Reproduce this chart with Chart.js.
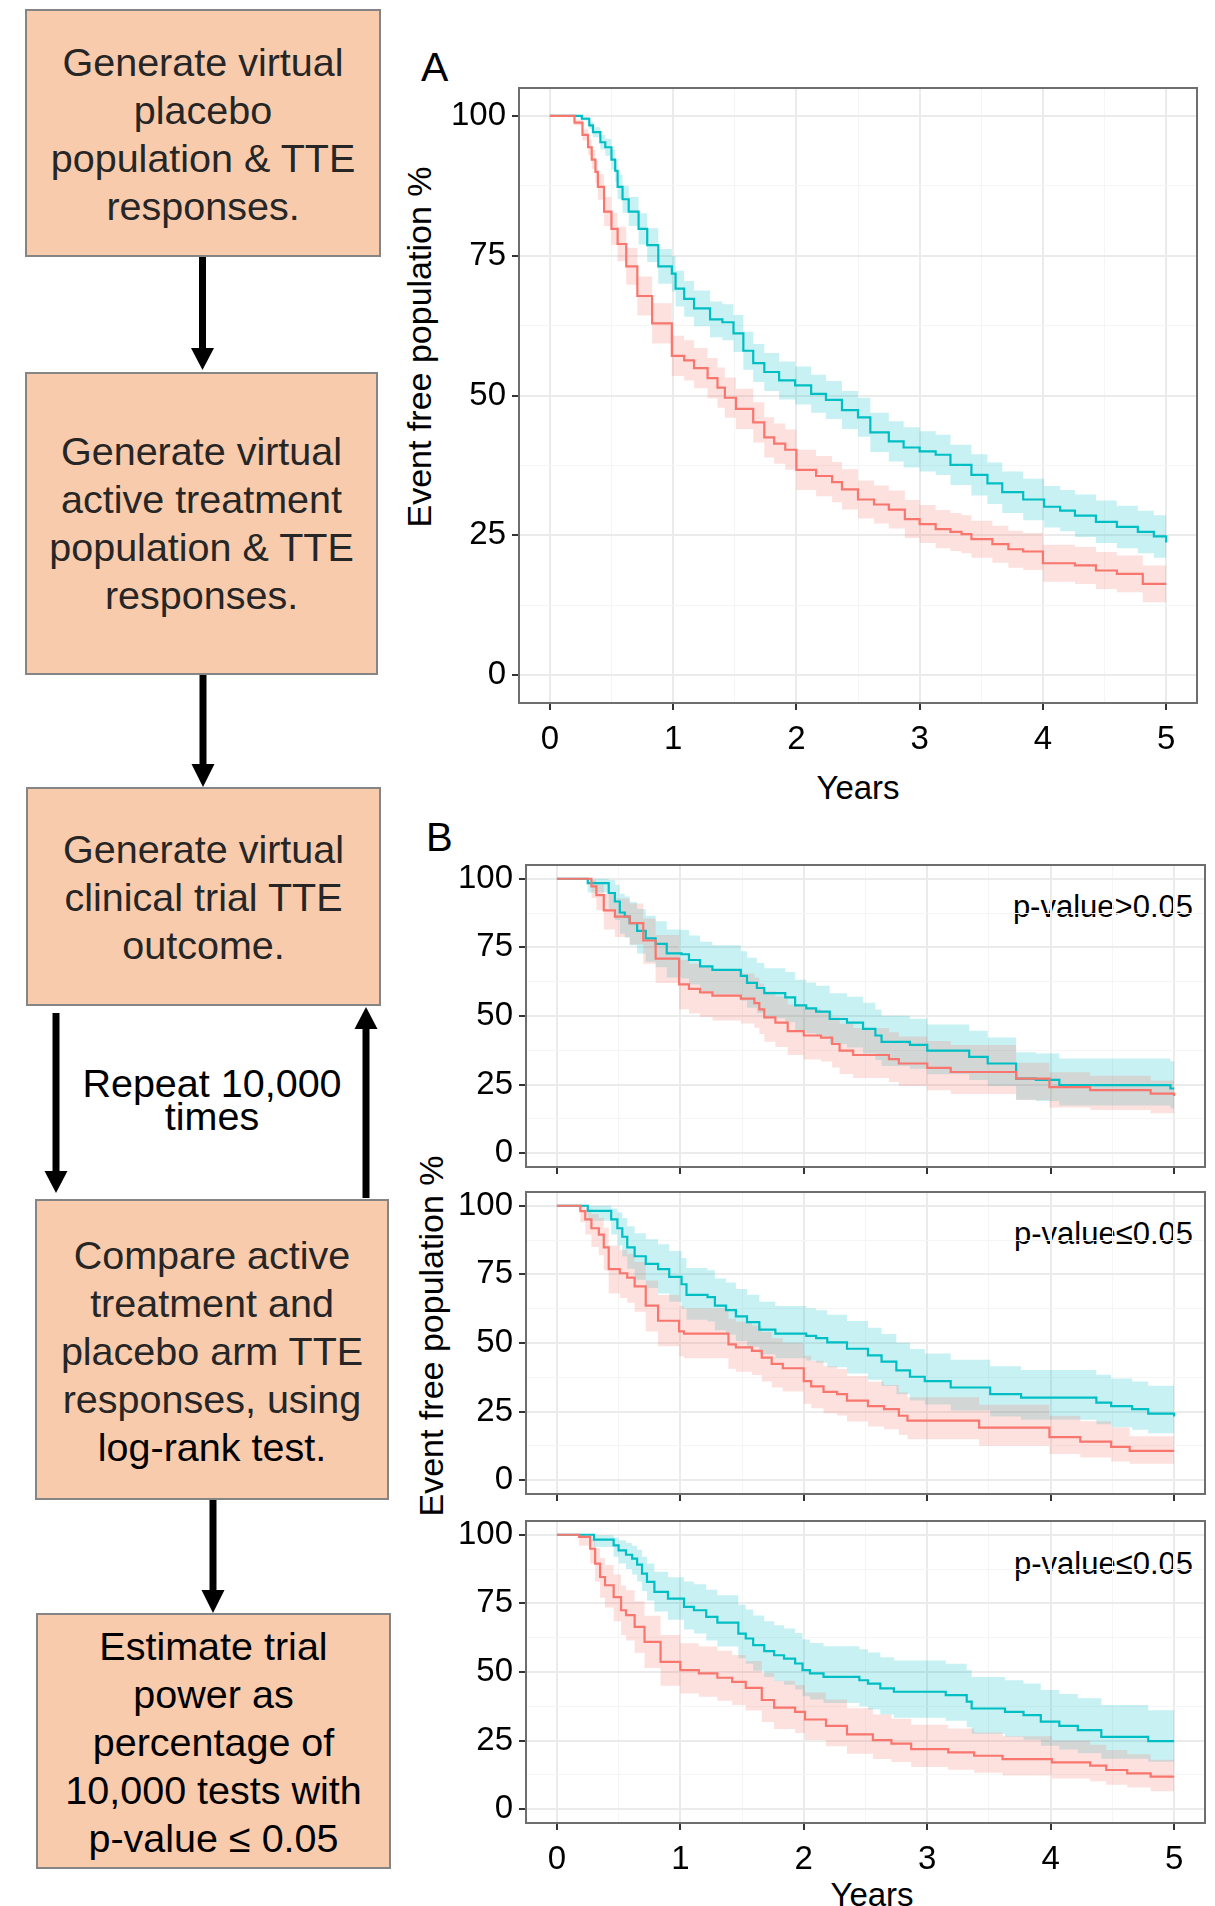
<!DOCTYPE html>
<html>
<head>
<meta charset="utf-8">
<script src="https://cdn.jsdelivr.net/npm/chart.js@4.4.1/dist/chart.umd.min.js"></script>
<style>
  html,body{margin:0;padding:0;background:#fff;}
  #root{position:relative;width:1215px;height:1906px;overflow:hidden;font-family:'Liberation Sans',Arial,Helvetica,sans-serif;}
  .box{position:absolute;box-sizing:border-box;background:#F8CBAD;border:2px solid #858585;}
  .btxt{position:absolute;text-align:center;font-size:39.5px;line-height:48px;color:#262626;white-space:nowrap;}
  .lbl{position:absolute;white-space:nowrap;color:#000;}
  .rot{position:absolute;white-space:nowrap;color:#000;font-size:34px;line-height:34px;transform:translate(-50%,-50%) rotate(-90deg);}
  canvas{position:absolute;}
</style>
</head>
<body>
<div id="root">
  <!-- flowchart -->
  <div class="box" style="left:25px;top:9px;width:356px;height:248px;"></div>
  <div class="btxt" style="left:25px;top:38.3px;width:356px;">Generate virtual<br>placebo<br>population &amp; TTE<br>responses.</div>

  <div class="box" style="left:25px;top:372px;width:353px;height:303px;"></div>
  <div class="btxt" style="left:25px;top:427.3px;width:353px;">Generate virtual<br>active treatment<br>population &amp; TTE<br>responses.</div>

  <div class="box" style="left:26px;top:787px;width:355px;height:219px;"></div>
  <div class="btxt" style="left:26px;top:825.3px;width:355px;">Generate virtual<br>clinical trial TTE<br>outcome.</div>

  <div class="btxt" style="left:60px;top:1066.5px;width:304px;line-height:33px;color:#000;">Repeat 10,000<br>times</div>

  <div class="box" style="left:35px;top:1199px;width:354px;height:301px;"></div>
  <div class="btxt" style="left:35px;top:1231.3px;width:354px;">Compare active<br>treatment and<br>placebo arm TTE<br>responses, using<br><span style="color:#000">log-rank test.</span></div>

  <div class="box" style="left:36px;top:1613px;width:355px;height:256px;"></div>
  <div class="btxt" style="left:36px;top:1622.3px;width:355px;color:#000;">Estimate trial<br>power as<br>percentage of<br>10,000 tests with<br>p-value ≤ 0.05</div>

  <svg width="420" height="1906" style="position:absolute;left:0;top:0;" xmlns="http://www.w3.org/2000/svg">
    <g stroke="#000" stroke-width="7">
      <line x1="202.5" y1="257" x2="202.5" y2="352"/>
      <line x1="203" y1="675" x2="203" y2="767"/>
      <line x1="56" y1="1013" x2="56" y2="1174"/>
      <line x1="366" y1="1198" x2="366" y2="1027"/>
      <line x1="213" y1="1500" x2="213" y2="1593"/>
    </g>
    <g fill="#000">
      <polygon points="191,348 214,348 202.5,370"/>
      <polygon points="191.5,764 214.5,764 203,787"/>
      <polygon points="44.5,1171 67.5,1171 56,1193"/>
      <polygon points="354.5,1029 377.5,1029 366,1007"/>
      <polygon points="201.5,1590 224.5,1590 213,1613"/>
    </g>
  </svg>

  <!-- chart labels -->
  <div class="lbl" style="left:421px;top:46.8px;font-size:41px;line-height:41px;">A</div>
  <div class="lbl" style="left:426px;top:817px;font-size:40px;line-height:40px;">B</div>
  <div class="rot" style="left:419px;top:347px;">Event free population %</div>
  <div class="rot" style="left:431px;top:1336px;">Event free population %</div>
  <div class="lbl" style="left:858px;top:771px;width:100px;text-align:center;font-size:33px;line-height:33px;margin-left:-50px;">Years</div>
  <div class="lbl" style="left:872px;top:1878px;width:100px;text-align:center;font-size:33px;line-height:33px;margin-left:-50px;">Years</div>
  <div class="lbl" id="p1" style="right:22px;top:890.8px;font-size:31px;line-height:31px;"></div>
  <div class="lbl" id="p2" style="right:22px;top:1217.8px;font-size:31px;line-height:31px;"></div>
  <div class="lbl" id="p3" style="right:22px;top:1548px;font-size:31px;line-height:31px;"></div>

  <canvas id="cA" width="775" height="720" style="left:440px;top:80px;"></canvas>
  <canvas id="cB1" width="775" height="320" style="left:440px;top:855px;"></canvas>
  <canvas id="cB2" width="775" height="320" style="left:440px;top:1182px;"></canvas>
  <canvas id="cB3" width="775" height="395" style="left:440px;top:1511px;"></canvas>
</div>

<script>
// ---------------- data ----------------
const xTicks = [0, 1, 2, 3, 4, 5];
const xMinor = [0.5, 1.5, 2.5, 3.5, 4.5];
const yTicks = [0, 25, 50, 75, 100];
const yMinor = [12.5, 37.5, 62.5, 87.5];
const pLabels = ['p-value>0.05', 'p-value≤0.05', 'p-value≤0.05'];

// Panel A - active treatment (cyan)
const A_actT  = [0,0.26,0.32,0.35,0.41,0.45,0.50,0.53,0.55,0.59,0.64,0.72,0.79,0.88,0.99,1.02,1.09,1.17,1.30,1.40,1.49,1.57,1.65,1.74,1.86,1.99,2.12,2.24,2.37,2.50,2.60,2.75,2.87,3.00,3.13,3.25,3.42,3.55,3.67,3.84,4.01,4.14,4.26,4.43,4.60,4.77,4.90,5.00];
const A_actS  = [100,99.5,98.3,97.1,95.3,94.4,92.2,90.2,87.3,85.1,82.9,79.8,76.9,73.1,71.8,69.1,67.3,65.6,63.6,63.1,61.1,58.0,55.8,54.2,52.7,51.8,50.3,49.2,47.4,46.1,43.4,41.8,40.7,40.0,39.4,37.6,35.8,34.3,32.7,31.4,30.1,29.4,28.5,27.4,26.5,25.6,24.8,23.7];
const A_actHi = [100,99.8,98.9,98.0,96.6,95.9,94.0,92.2,89.5,87.5,85.5,82.6,79.9,76.2,75.0,72.3,70.5,68.8,66.8,66.3,64.4,61.4,59.2,57.6,56.1,55.2,53.7,52.6,50.8,49.6,46.9,45.4,44.3,43.6,43.0,41.2,39.5,38.0,36.4,35.1,33.8,33.1,32.3,31.2,30.3,29.4,28.6,27.5];
const A_actLo = [100,99.2,97.7,96.2,94.0,92.9,90.4,88.2,85.1,82.7,80.3,77.0,73.9,70.0,68.6,65.9,64.1,62.4,60.4,59.9,57.8,54.6,52.4,50.8,49.3,48.4,46.9,45.8,44.0,42.6,39.9,38.2,37.1,36.4,35.8,34.0,32.1,30.6,29.0,27.7,26.4,25.7,24.7,23.6,22.7,21.8,21.0,19.9];
// Panel A - placebo (red)
const A_plaT  = [0,0.20,0.265,0.31,0.34,0.37,0.39,0.44,0.50,0.55,0.62,0.71,0.83,0.99,1.09,1.17,1.28,1.36,1.42,1.51,1.65,1.74,1.82,1.91,2.00,2.16,2.29,2.37,2.50,2.63,2.75,2.88,3.00,3.13,3.25,3.34,3.42,3.59,3.72,3.84,4.00,4.26,4.43,4.60,4.81,5.00];
const A_plaS  = [100,98.8,96.6,94.4,92.2,90.0,87.3,82.9,79.8,77.1,73.1,67.8,62.9,57.1,56.3,54.9,53.1,51.4,49.6,47.6,45.2,42.5,41.4,40.3,36.7,35.6,34.5,33.2,31.4,30.5,29.6,27.9,27.0,26.1,25.6,25.2,24.3,23.4,22.5,22.1,20.0,19.6,18.7,18.1,16.3,16.3];
const A_plaHi = [100,99.3,97.6,95.8,93.9,92.0,89.6,85.5,82.7,80.2,76.4,71.3,66.5,60.7,59.9,58.5,56.7,55.0,53.2,51.2,48.8,46.1,45.0,43.9,40.3,39.2,38.1,36.8,34.8,33.9,33.0,31.3,30.4,29.5,29.0,28.6,27.6,26.7,25.8,25.4,23.3,22.9,22.0,21.4,19.6,19.6];
const A_plaLo = [100,98.3,95.6,93.0,90.5,88.0,85.0,80.3,76.9,74.0,69.8,64.3,59.3,53.5,52.7,51.3,49.5,47.8,46.0,44.0,41.6,38.9,37.8,36.7,33.1,32.0,30.9,29.6,28.0,27.1,26.2,24.5,23.6,22.7,22.2,21.8,21.0,20.1,19.2,18.8,16.7,16.3,15.4,14.8,13.0,13.0];

// Panel B1 (p > 0.05)
const B1_actT  = [0,0.25,0.42,0.47,0.51,0.55,0.59,0.65,0.72,0.80,0.89,1.01,1.07,1.16,1.26,1.49,1.54,1.62,1.68,1.85,1.93,2.02,2.10,2.21,2.35,2.48,2.58,2.63,2.86,3.00,3.34,3.49,3.72,3.88,4.07,4.97,5.00];
const B1_actS  = [100,98.4,94.8,91.7,87.7,86.2,83.8,81.0,78.3,76.3,72.8,72.5,70.4,68.1,66.8,64.6,62.1,60.2,58.3,56.8,53.9,52.8,51.6,48.9,47.6,45.3,42.9,40.6,39.5,37.4,35.1,32.7,27.2,26.7,24.8,23.6,23.6];
const B1_actHi = [100,100,99.5,97.8,94.5,93.5,91.5,89.0,86.5,84.5,81.5,81.3,79.3,77.0,75.8,73.6,71.2,69.3,67.4,66.0,63.2,62.2,61.0,58.3,57.0,54.8,52.4,50.1,49.0,46.9,44.6,42.2,36.8,36.3,34.5,33.5,33.5];
const B1_actLo = [100,95.0,89.0,85.0,80.0,78.5,75.8,72.8,69.8,67.8,64.0,63.7,61.5,59.1,57.8,55.6,53.0,51.1,49.2,47.7,44.8,43.7,42.5,39.8,38.5,36.3,34.0,31.8,30.8,28.8,26.7,24.5,19.5,19.0,17.4,16.3,16.3];
const B1_plaT  = [0,0.28,0.32,0.38,0.47,0.59,0.70,0.80,0.99,1.07,1.16,1.26,1.49,1.60,1.64,1.68,1.77,1.87,2.00,2.14,2.23,2.29,2.40,2.69,2.77,3.00,3.19,3.72,3.99,4.32,4.81,5.00];
const B1_plaS  = [100,97.2,94.0,88.5,86.2,83.8,77.5,70.9,61.5,59.9,58.6,57.4,56.3,54.7,52.4,49.5,47.6,44.5,42.9,42.1,39.8,37.4,35.8,34.3,32.7,31.1,29.6,27.2,24.1,23.0,21.7,20.9];
const B1_plaHi = [100,99.5,98.0,94.5,92.8,91.0,85.5,79.5,70.5,69.0,67.8,66.6,65.5,64.0,61.8,59.0,57.2,54.2,52.6,51.8,49.5,47.2,45.6,44.1,42.5,40.9,39.4,33.0,29.5,28.2,26.5,25.8];
const B1_plaLo = [100,93.0,88.5,81.5,78.8,76.0,69.0,62.0,52.5,50.9,49.6,48.4,47.3,45.7,43.4,40.6,38.7,35.8,34.2,33.4,31.2,28.9,27.4,26.0,24.5,23.0,21.6,19.4,16.7,15.8,14.6,13.9];

// Panel B2 (p <= 0.05)
const B2_actT  = [0,0.25,0.44,0.49,0.53,0.57,0.63,0.72,0.82,0.91,1.01,1.05,1.22,1.28,1.37,1.45,1.54,1.64,1.77,2.02,2.10,2.19,2.35,2.52,2.63,2.75,2.86,2.98,3.19,3.51,3.76,4.37,4.49,4.66,4.79,5.00];
const B2_actS  = [100,98.1,95.0,91.8,88.7,84.8,81.6,78.8,76.9,74.1,71.4,67.5,66.7,63.6,62.0,59.7,57.6,54.9,53.4,52.6,51.8,50.2,47.9,45.5,43.2,40.0,37.7,36.1,33.8,31.4,30.1,28.3,27.0,25.9,24.3,23.2];
const B2_actHi = [100,100,99.0,97.5,95.5,92.5,90.0,87.8,86.0,83.5,81.0,77.3,76.5,73.5,72.0,69.7,67.6,65.0,63.5,62.7,61.9,60.3,58.0,55.6,53.3,50.1,47.8,46.2,43.9,41.5,40.2,38.4,37.1,36.0,34.4,33.3];
const B2_actLo = [100,94.5,89.5,85.5,81.5,77.0,73.0,70.0,68.0,65.0,62.5,58.5,57.8,54.6,53.0,50.7,48.6,45.9,44.4,43.6,42.8,41.2,38.9,36.6,34.3,31.3,29.1,27.6,25.4,23.2,22.0,20.4,19.3,18.4,17.1,16.3];
const B2_plaT  = [0,0.19,0.23,0.28,0.34,0.38,0.42,0.51,0.57,0.63,0.72,0.82,0.99,1.03,1.39,1.45,1.58,1.66,1.74,1.83,2.00,2.06,2.16,2.27,2.35,2.52,2.65,2.77,2.84,3.42,3.99,4.24,4.49,4.64,5.00];
const B2_plaS  = [100,98.0,95.0,91.8,89.5,84.8,76.9,75.4,73.8,70.6,63.6,58.1,54.2,53.4,49.5,48.4,47.1,44.7,42.4,40.8,36.1,34.2,32.2,31.4,29.0,27.0,25.9,23.5,21.7,19.2,15.7,14.1,12.2,10.7,10.7];
const B2_plaHi = [100,100,99.0,97.0,95.5,92.0,85.5,84.0,82.5,79.5,72.8,67.5,63.5,62.7,58.8,57.7,56.4,54.0,51.7,50.1,45.4,43.5,41.5,40.5,38.0,35.9,34.7,32.1,30.2,27.5,23.5,21.5,19.2,16.0,16.0];
const B2_plaLo = [100,94.0,89.5,85.0,82.0,76.5,68.0,66.4,64.7,61.4,54.2,48.8,45.2,44.4,40.6,39.5,38.3,36.0,33.8,32.3,27.9,26.2,24.4,23.6,21.4,19.6,18.6,16.5,14.9,12.6,9.6,8.3,6.8,6.0,6.0];

// Panel B3 (p <= 0.05)
const B3_actT  = [0,0.30,0.46,0.50,0.56,0.61,0.65,0.69,0.73,0.79,0.90,1.03,1.11,1.21,1.30,1.47,1.53,1.59,1.68,1.76,1.84,1.93,1.99,2.05,2.16,2.45,2.52,2.62,2.73,3.15,3.32,3.36,3.63,3.78,3.92,4.07,4.22,4.41,4.79,5.00];
const B3_actS  = [100,98.2,96.1,94.3,92.7,91.3,89.1,85.8,82.8,79.2,76.7,73.7,72.5,70.1,68.0,64.0,62.2,59.8,57.6,56.1,54.9,53.1,50.7,49.5,48.2,47.0,45.8,44.0,42.8,41.6,39.2,36.7,35.5,34.3,31.9,30.4,28.8,26.4,24.8,24.8];
const B3_actHi = [100,99.8,99.0,98.0,97.0,96.0,94.5,92.0,89.5,86.5,84.5,83.0,82.0,80.0,78.0,74.5,72.8,70.6,68.5,67.0,65.8,64.2,61.8,60.6,59.4,58.3,57.1,55.4,54.2,53.0,50.6,48.2,47.0,45.8,43.4,42.0,40.4,38.0,36.1,36.1];
const B3_actLo = [100,95.5,92.0,89.5,87.5,85.5,83.0,79.5,76.0,72.0,69.0,65.5,64.0,61.5,59.3,55.0,53.0,50.5,48.2,46.7,45.4,43.6,41.2,40.0,38.7,37.5,36.3,34.5,33.3,32.2,29.9,27.5,26.4,25.3,23.1,21.8,20.4,18.4,17.3,17.3];
const B3_plaT  = [0,0.18,0.27,0.31,0.35,0.39,0.46,0.52,0.56,0.63,0.71,0.84,1.00,1.15,1.30,1.42,1.53,1.66,1.76,1.93,2.01,2.18,2.35,2.56,2.71,2.87,3.17,3.38,3.61,4.01,4.32,4.45,4.62,4.81,5.00];
const B3_plaS  = [100,99.2,94.9,89.5,84.6,81.6,77.3,72.5,70.7,66.4,61.0,53.7,50.7,49.5,47.9,46.4,44.2,39.8,37.0,35.5,32.7,30.4,27.3,25.2,23.9,21.9,20.7,19.5,18.3,17.1,15.9,14.3,13.1,11.9,11.9];
const B3_plaHi = [100,100,98.5,95.0,91.5,89.0,85.5,81.5,79.8,75.8,70.5,63.5,60.5,59.3,57.7,56.2,54.0,49.6,46.8,45.3,42.5,40.0,36.8,34.5,33.0,30.8,29.4,28.0,26.6,25.0,23.5,21.6,20.0,18.0,18.0];
const B3_plaLo = [100,96.0,89.5,83.0,77.0,73.5,68.5,63.5,61.5,57.0,51.5,45.0,42.2,41.0,39.5,38.0,36.0,31.8,29.2,27.8,25.2,23.0,20.2,18.3,17.2,15.4,14.4,13.3,12.3,11.2,10.2,8.9,7.9,6.6,6.6];

// ---------------- drawing ----------------
const RED = '#F8766D', CYAN = '#00BFC4';
const RED_BAND = 'rgba(248,118,109,0.22)', CYAN_BAND = 'rgba(0,191,196,0.22)';
const xGrid = [...xTicks, ...xMinor].sort((a, b) => a - b);
const yGrid = [...yTicks, ...yMinor].sort((a, b) => a - b);

// Kaplan-Meier step path built from the event times and survival values
function steps(t, s) {
  const pts = [{x: t[0], y: s[0]}];
  for (let i = 1; i < t.length; i++) {
    pts.push({x: t[i], y: s[i - 1]});
    pts.push({x: t[i], y: s[i]});
  }
  return pts;
}

const panelBorder = {
  id: 'panelBorder',
  afterDatasetsDraw(chart) {
    const a = chart.chartArea, c = chart.ctx;
    c.save();
    c.strokeStyle = '#6e6e6e';
    c.lineWidth = 2;
    c.strokeRect(a.left, a.top, a.right - a.left, a.bottom - a.top);
    c.restore();
  }
};

function gridOpts(majors) {
  const isMaj = c => c.tick && majors.includes(c.tick.value);
  return {
    color: c => isMaj(c) ? '#EBEBEB' : '#F5F5F5',
    lineWidth: c => isMaj(c) ? 2 : 1,
    drawTicks: true,
    tickLength: 7,
    tickColor: c => isMaj(c) ? '#333333' : 'rgba(0,0,0,0)',
    tickWidth: 2
  };
}

function km(id, arms, o) {
  const ds = [];
  arms.forEach(a => ds.push({
    data: steps(a.t, a.s), borderColor: a.color, borderWidth: 2.2,
    pointRadius: 0, fill: false, order: 0, tension: 0
  }));
  arms.forEach(a => {
    ds.push({data: steps(a.t, a.hi), borderWidth: 0, borderColor: 'rgba(0,0,0,0)',
             backgroundColor: a.band, pointRadius: 0, fill: '+1', order: 1, tension: 0});
    ds.push({data: steps(a.t, a.lo), borderWidth: 0, borderColor: 'rgba(0,0,0,0)',
             pointRadius: 0, fill: false, order: 1, tension: 0});
  });
  const zeroPad = sc => { sc.paddingTop = 0; sc.paddingBottom = 0; sc.paddingLeft = 0; sc.paddingRight = 0; };
  return new Chart(document.getElementById(id), {
    type: 'line',
    data: {datasets: ds},
    plugins: [panelBorder],
    options: {
      responsive: false, animation: false, devicePixelRatio: 1,
      layout: {padding: {top: o.padTop, right: o.padRight, left: 0, bottom: 0}},
      plugins: {legend: {display: false}, tooltip: {enabled: false}},
      scales: {
        x: {
          type: 'linear', min: -0.25, max: 5.25,
          afterBuildTicks: sc => { sc.ticks = xGrid.map(v => ({value: v})); },
          afterFit: sc => { sc.height = o.xH; zeroPad(sc); },
          ticks: {autoSkip: false, maxRotation: 0, minRotation: 0, color: '#000', padding: 10.5,
                  font: {size: 33, family: "'Liberation Sans', Arial, sans-serif"},
                  callback: v => (o.xLabels && xTicks.includes(v)) ? String(v) : ''},
          grid: gridOpts(xTicks),
          border: {display: false}
        },
        y: {
          type: 'linear', min: -5, max: 105,
          afterBuildTicks: sc => { sc.ticks = yGrid.map(v => ({value: v})); },
          afterFit: sc => { sc.width = o.yW; zeroPad(sc); },
          ticks: {autoSkip: false, color: '#000', padding: 6,
                  font: {size: 33, family: "'Liberation Sans', Arial, sans-serif"},
                  callback: v => yTicks.includes(v) ? String(v) : ''},
          grid: gridOpts(yTicks),
          border: {display: false}
        }
      }
    }
  });
}

function arms(aT, aS, aHi, aLo, pT, pS, pHi, pLo) {
  return [
    {t: pT, s: pS, hi: pHi, lo: pLo, color: RED, band: RED_BAND},
    {t: aT, s: aS, hi: aHi, lo: aLo, color: CYAN, band: CYAN_BAND}
  ];
}

km('cA', arms(A_actT, A_actS, A_actHi, A_actLo, A_plaT, A_plaS, A_plaHi, A_plaLo),
   {padTop: 8, padRight: 18, yW: 79, xH: 97, xLabels: true});
km('cB1', arms(B1_actT, B1_actS, B1_actHi, B1_actLo, B1_plaT, B1_plaS, B1_plaHi, B1_plaLo),
   {padTop: 10, padRight: 10, yW: 86, xH: 8, xLabels: false});
km('cB2', arms(B2_actT, B2_actS, B2_actHi, B2_actLo, B2_plaT, B2_plaS, B2_plaHi, B2_plaLo),
   {padTop: 10, padRight: 10, yW: 86, xH: 8, xLabels: false});
km('cB3', arms(B3_actT, B3_actS, B3_actHi, B3_actLo, B3_plaT, B3_plaS, B3_plaHi, B3_plaLo),
   {padTop: 10, padRight: 10, yW: 86, xH: 83, xLabels: true});

document.getElementById('p1').textContent = pLabels[0];
document.getElementById('p2').textContent = pLabels[1];
document.getElementById('p3').textContent = pLabels[2];
</script>
</body>
</html>
